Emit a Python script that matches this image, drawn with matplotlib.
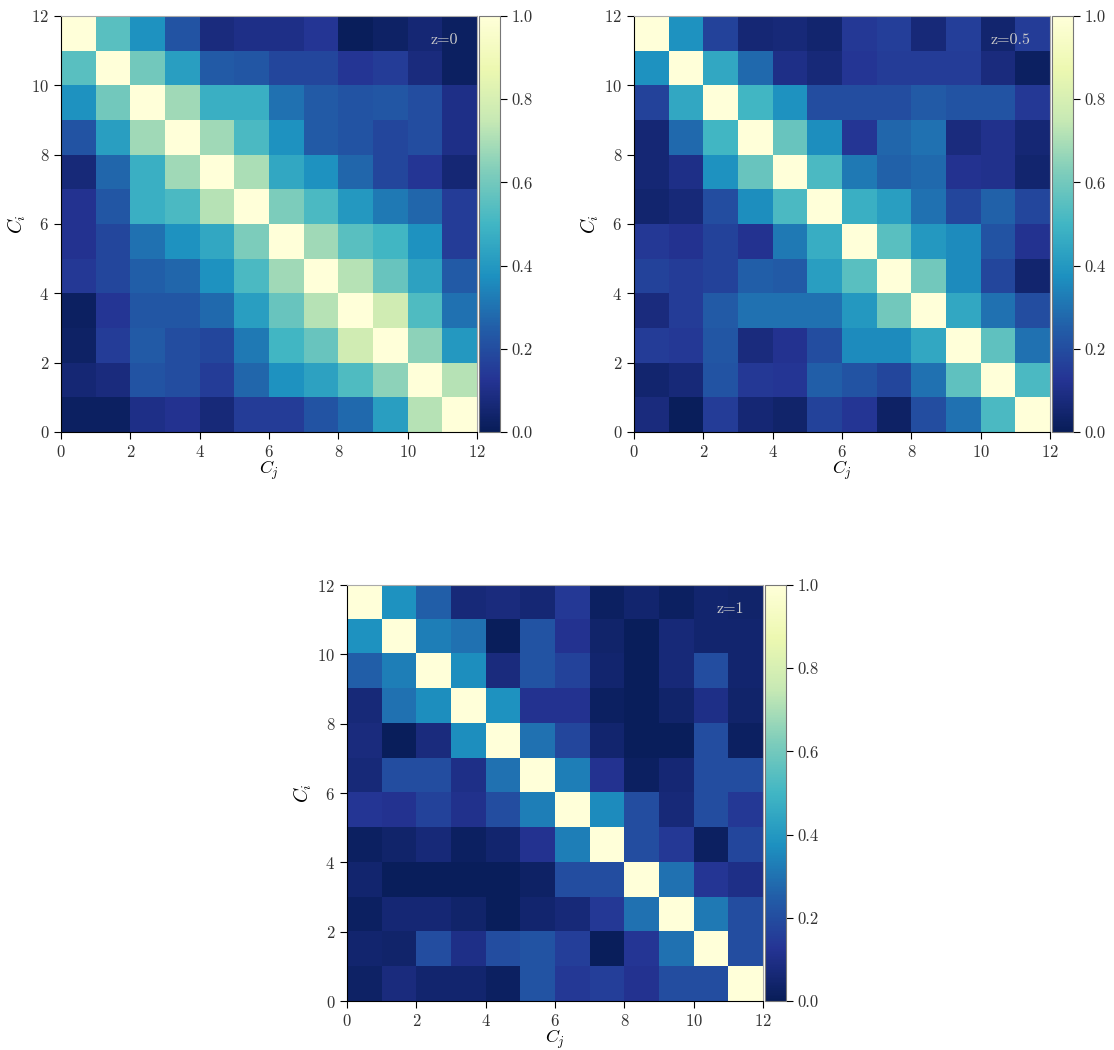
import numpy as np
import matplotlib
matplotlib.use("Agg")
import matplotlib.pyplot as plt

plt.rcParams['font.family'] = ['cmr10', 'DejaVu Serif']
plt.rcParams['mathtext.fontset'] = 'cm'
plt.rcParams['axes.formatter.use_mathtext'] = True

# correlation matrices, rows listed top to bottom as shown
corr_z0 = [
    [1.00, 0.55, 0.38, 0.22, 0.08, 0.10, 0.10, 0.13, 0.01, 0.03, 0.06, 0.02],
    [0.55, 1.00, 0.60, 0.42, 0.24, 0.23, 0.18, 0.18, 0.13, 0.15, 0.08, 0.02],
    [0.38, 0.60, 1.00, 0.68, 0.48, 0.48, 0.30, 0.24, 0.22, 0.23, 0.20, 0.10],
    [0.22, 0.42, 0.68, 1.00, 0.68, 0.52, 0.38, 0.24, 0.22, 0.18, 0.20, 0.10],
    [0.07, 0.27, 0.48, 0.68, 1.00, 0.70, 0.45, 0.38, 0.27, 0.18, 0.13, 0.06],
    [0.12, 0.23, 0.48, 0.52, 0.72, 1.00, 0.62, 0.52, 0.40, 0.32, 0.27, 0.15],
    [0.12, 0.18, 0.30, 0.38, 0.45, 0.62, 1.00, 0.68, 0.55, 0.50, 0.38, 0.15],
    [0.14, 0.18, 0.25, 0.27, 0.38, 0.52, 0.68, 1.00, 0.72, 0.58, 0.43, 0.24],
    [0.02, 0.13, 0.23, 0.23, 0.28, 0.42, 0.58, 0.72, 1.00, 0.78, 0.53, 0.30],
    [0.03, 0.15, 0.24, 0.20, 0.18, 0.32, 0.50, 0.58, 0.78, 1.00, 0.65, 0.40],
    [0.06, 0.08, 0.22, 0.20, 0.15, 0.27, 0.38, 0.43, 0.53, 0.65, 1.00, 0.72],
    [0.02, 0.02, 0.10, 0.12, 0.07, 0.15, 0.15, 0.22, 0.28, 0.42, 0.72, 1.00],
]

corr_z05 = [
    [1.00, 0.38, 0.17, 0.06, 0.07, 0.05, 0.14, 0.16, 0.07, 0.16, 0.05, 0.15],
    [0.38, 1.00, 0.45, 0.28, 0.10, 0.07, 0.13, 0.15, 0.15, 0.15, 0.08, 0.02],
    [0.17, 0.45, 1.00, 0.50, 0.38, 0.20, 0.20, 0.20, 0.24, 0.22, 0.22, 0.14],
    [0.06, 0.28, 0.50, 1.00, 0.58, 0.37, 0.13, 0.27, 0.30, 0.08, 0.11, 0.06],
    [0.06, 0.10, 0.38, 0.58, 1.00, 0.52, 0.32, 0.26, 0.28, 0.12, 0.11, 0.05],
    [0.05, 0.07, 0.20, 0.37, 0.52, 1.00, 0.48, 0.42, 0.30, 0.18, 0.26, 0.18],
    [0.14, 0.12, 0.17, 0.12, 0.32, 0.47, 1.00, 0.55, 0.40, 0.36, 0.22, 0.12],
    [0.17, 0.15, 0.17, 0.25, 0.24, 0.42, 0.55, 1.00, 0.60, 0.36, 0.18, 0.05],
    [0.08, 0.15, 0.24, 0.30, 0.30, 0.30, 0.40, 0.60, 1.00, 0.45, 0.30, 0.20],
    [0.15, 0.14, 0.23, 0.08, 0.12, 0.20, 0.36, 0.36, 0.45, 1.00, 0.56, 0.30],
    [0.05, 0.07, 0.22, 0.14, 0.13, 0.25, 0.22, 0.18, 0.30, 0.56, 1.00, 0.52],
    [0.08, 0.01, 0.15, 0.06, 0.04, 0.17, 0.13, 0.03, 0.20, 0.30, 0.52, 1.00],
]

corr_z1 = [
    [1.00, 0.38, 0.25, 0.07, 0.08, 0.06, 0.14, 0.02, 0.05, 0.02, 0.05, 0.04],
    [0.38, 1.00, 0.33, 0.30, 0.01, 0.22, 0.12, 0.04, 0.01, 0.07, 0.05, 0.05],
    [0.25, 0.33, 1.00, 0.37, 0.08, 0.22, 0.17, 0.05, 0.01, 0.07, 0.20, 0.05],
    [0.07, 0.30, 0.37, 1.00, 0.38, 0.12, 0.12, 0.02, 0.01, 0.04, 0.10, 0.04],
    [0.08, 0.01, 0.08, 0.37, 1.00, 0.30, 0.18, 0.05, 0.01, 0.01, 0.20, 0.02],
    [0.07, 0.20, 0.20, 0.10, 0.30, 1.00, 0.33, 0.12, 0.02, 0.06, 0.20, 0.20],
    [0.13, 0.12, 0.17, 0.11, 0.20, 0.33, 1.00, 0.36, 0.20, 0.07, 0.20, 0.14],
    [0.02, 0.04, 0.07, 0.02, 0.05, 0.12, 0.33, 1.00, 0.20, 0.14, 0.02, 0.18],
    [0.05, 0.01, 0.01, 0.01, 0.01, 0.03, 0.20, 0.20, 1.00, 0.30, 0.13, 0.10],
    [0.02, 0.06, 0.06, 0.04, 0.01, 0.05, 0.07, 0.14, 0.30, 1.00, 0.32, 0.20],
    [0.05, 0.04, 0.20, 0.10, 0.20, 0.22, 0.16, 0.01, 0.13, 0.30, 1.00, 0.20],
    [0.03, 0.08, 0.05, 0.05, 0.02, 0.22, 0.14, 0.16, 0.12, 0.20, 0.20, 1.00],
]

labels = ['z=0', 'z=0.5', 'z=1']
ticks = [0, 2, 4, 6, 8, 10, 12]
cbar_ticks = [0.0, 0.2, 0.4, 0.6, 0.8, 1.0]

W, H = 1114, 1050
fig = plt.figure(figsize=(W / 100, H / 100), dpi=100)

# pixel boxes (left, top) for each panel
boxes = [(61, 16), (634, 16), (347, 585)]
size = 416

for data, label, (px, py) in zip([corr_z0, corr_z05, corr_z1], labels, boxes):
    ax = fig.add_axes([px / W, (H - py - size) / H, size / W, size / H])
    im = ax.imshow(np.array(data), cmap='YlGnBu_r', vmin=0, vmax=1,
                   extent=[0, 12, 0, 12], origin='upper', aspect='auto',
                   interpolation='nearest')
    ax.set_xticks(ticks)
    ax.set_yticks(ticks)
    ax.tick_params(labelsize=12, direction='out', length=5, color='black',
                   labelcolor='#333333')
    for s in ['top', 'right']:
        ax.spines[s].set_color('#aaaaaa')
    ax.set_xlabel('$C_j$', fontsize=13, labelpad=-1)
    ax.set_ylabel('$C_i$', fontsize=14, labelpad=2)
    ax.text(11.45, 11.3, label, color='#cccccc', fontsize=11.5,
            ha='right', va='center')

    cax = fig.add_axes([(px + size + 2) / W, (H - py - size) / H, 21 / W, size / H])
    cb = fig.colorbar(im, cax=cax)
    cb.set_ticks(cbar_ticks)
    cb.set_ticklabels(['%.1f' % t for t in cbar_ticks])
    cb.outline.set_edgecolor('#777777')
    cax.tick_params(labelsize=12, length=5, labelcolor='#333333')

fig.savefig('out.png', dpi=100)
